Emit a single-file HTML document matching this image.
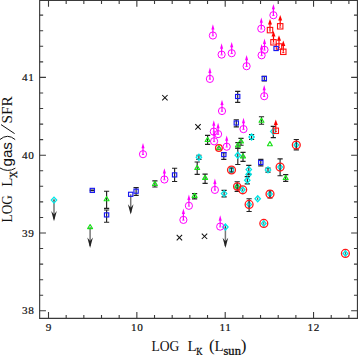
<!DOCTYPE html>
<html><head><meta charset="utf-8"><style>
html,body{margin:0;padding:0;background:#fff;}
svg{display:block;}
.tl{font-family:"Liberation Serif",serif;font-size:11.2px;fill:#111;stroke:#111;stroke-width:0.2px;}
.lb{font-family:"Liberation Serif",serif;fill:#111;}
.sb{stroke:#111;stroke-width:0.3px;}
.ls{font-family:"Liberation Sans",sans-serif;fill:#111;}
</style></head><body>
<svg width="358" height="355" viewBox="0 0 358 355">
<rect width="358" height="355" fill="#fff"/>
<path d="M39.65 0.5H357.45V318.4H39.65Z" fill="none" stroke="#3a3a3a" stroke-width="1.15"/>
<path d="M48.50 318.4v-6.3M48.50 0.5v6.3M66.17 318.4v-3.5M66.17 0.5v3.5M83.84 318.4v-3.5M83.84 0.5v3.5M101.51 318.4v-3.5M101.51 0.5v3.5M119.18 318.4v-3.5M119.18 0.5v3.5M136.85 318.4v-6.3M136.85 0.5v6.3M154.52 318.4v-3.5M154.52 0.5v3.5M172.19 318.4v-3.5M172.19 0.5v3.5M189.86 318.4v-3.5M189.86 0.5v3.5M207.53 318.4v-3.5M207.53 0.5v3.5M225.20 318.4v-6.3M225.20 0.5v6.3M242.87 318.4v-3.5M242.87 0.5v3.5M260.54 318.4v-3.5M260.54 0.5v3.5M278.21 318.4v-3.5M278.21 0.5v3.5M295.88 318.4v-3.5M295.88 0.5v3.5M313.55 318.4v-6.3M313.55 0.5v6.3M331.22 318.4v-3.5M331.22 0.5v3.5M348.89 318.4v-3.5M348.89 0.5v3.5M39.65 310.80h6.3M357.45 310.80h-6.3M39.65 295.24h3.5M357.45 295.24h-3.5M39.65 279.68h3.5M357.45 279.68h-3.5M39.65 264.12h3.5M357.45 264.12h-3.5M39.65 248.56h3.5M357.45 248.56h-3.5M39.65 233.00h6.3M357.45 233.00h-6.3M39.65 217.44h3.5M357.45 217.44h-3.5M39.65 201.88h3.5M357.45 201.88h-3.5M39.65 186.32h3.5M357.45 186.32h-3.5M39.65 170.76h3.5M357.45 170.76h-3.5M39.65 155.20h6.3M357.45 155.20h-6.3M39.65 139.64h3.5M357.45 139.64h-3.5M39.65 124.08h3.5M357.45 124.08h-3.5M39.65 108.52h3.5M357.45 108.52h-3.5M39.65 92.96h3.5M357.45 92.96h-3.5M39.65 77.40h6.3M357.45 77.40h-6.3M39.65 61.84h3.5M357.45 61.84h-3.5M39.65 46.28h3.5M357.45 46.28h-3.5M39.65 30.72h3.5M357.45 30.72h-3.5M39.65 15.16h3.5M357.45 15.16h-3.5" fill="none" stroke="#3a3a3a" stroke-width="1.1"/>
<path d="M162.20000000000002 95.0L167.6 100.4M162.20000000000002 100.4L167.6 95.0" stroke="#111" stroke-width="1.05"/>
<path d="M195.3 124.2L200.7 129.6M195.3 129.6L200.7 124.2" stroke="#111" stroke-width="1.05"/>
<path d="M176.70000000000002 234.9L182.1 240.29999999999998M176.70000000000002 240.29999999999998L182.1 234.9" stroke="#111" stroke-width="1.05"/>
<path d="M201.8 233.60000000000002L207.2 239.0M201.8 239.0L207.2 233.60000000000002" stroke="#111" stroke-width="1.05"/>
<path d="M54.0 200.1V219.2" stroke="#777" stroke-width="1.5"/><path d="M54.0 221.2L56.8 210.89999999999998L54.0 214.39999999999998L51.2 210.89999999999998Z" fill="#222"/>
<path d="M90.1 227.0V245.9" stroke="#777" stroke-width="1.5"/><path d="M90.1 247.9L92.89999999999999 237.6L90.1 241.1L87.3 237.6Z" fill="#222"/>
<path d="M130.7 194.3V212.6" stroke="#777" stroke-width="1.5"/><path d="M130.7 214.6L133.5 204.29999999999998L130.7 207.79999999999998L127.89999999999999 204.29999999999998Z" fill="#222"/>
<path d="M225.4 227.0V246.1" stroke="#777" stroke-width="1.5"/><path d="M225.4 248.1L228.20000000000002 237.79999999999998L225.4 241.29999999999998L222.6 237.79999999999998Z" fill="#222"/>
<path d="M264.3 76.3V80.8M261.7 76.3h5.2M261.7 80.8h5.2" fill="none" stroke="#222" stroke-width="1.15"/>
<rect x="262.15" y="76.45" width="4.3" height="4.1" fill="none" stroke="#1818f0" stroke-width="1.15"/>
<path d="M237.7 91.4V102.4M235.1 91.4h5.2M235.1 102.4h5.2" fill="none" stroke="#222" stroke-width="1.15"/>
<rect x="235.55" y="94.45" width="4.3" height="4.1" fill="none" stroke="#1818f0" stroke-width="1.15"/>
<path d="M236.3 119.7V126.8M233.70000000000002 119.7h5.2M233.70000000000002 126.8h5.2" fill="none" stroke="#222" stroke-width="1.15"/>
<rect x="234.15" y="120.95" width="4.3" height="4.1" fill="none" stroke="#1818f0" stroke-width="1.15"/>
<path d="M174.6 168.2V181.5M172.0 168.2h5.2M172.0 181.5h5.2" fill="none" stroke="#222" stroke-width="1.15"/>
<rect x="172.45" y="172.85" width="4.3" height="4.1" fill="none" stroke="#1818f0" stroke-width="1.15"/>
<path d="M136.1 187.6V195.4M133.5 187.6h5.2M133.5 195.4h5.2" fill="none" stroke="#222" stroke-width="1.15"/>
<rect x="133.95" y="189.15" width="4.3" height="4.1" fill="none" stroke="#1818f0" stroke-width="1.15"/>
<rect x="128.55" y="192.25" width="4.3" height="4.1" fill="none" stroke="#1818f0" stroke-width="1.15"/>
<path d="M92.3 190.0V190.6M89.7 190.0h5.2M89.7 190.6h5.2" fill="none" stroke="#222" stroke-width="1.15"/>
<rect x="90.15" y="188.35" width="4.3" height="4.1" fill="none" stroke="#1818f0" stroke-width="1.15"/>
<path d="M106.6 210.0V222.2M104.0 210.0h5.2M104.0 222.2h5.2" fill="none" stroke="#222" stroke-width="1.15"/>
<rect x="104.45" y="212.85" width="4.3" height="4.1" fill="none" stroke="#1818f0" stroke-width="1.15"/>
<path d="M223.8 152.6V159.4M221.20000000000002 152.6h5.2M221.20000000000002 159.4h5.2" fill="none" stroke="#222" stroke-width="1.15"/>
<rect x="221.65" y="152.55" width="4.3" height="4.1" fill="none" stroke="#1818f0" stroke-width="1.15"/>
<path d="M260.8 159.4V165.9M258.2 159.4h5.2M258.2 165.9h5.2" fill="none" stroke="#222" stroke-width="1.15"/>
<rect x="258.65" y="160.45" width="4.3" height="4.1" fill="none" stroke="#1818f0" stroke-width="1.15"/>
<path d="M106.6 191.2V208.4M104.0 191.2h5.2M104.0 208.4h5.2" fill="none" stroke="#222" stroke-width="1.15"/>
<path d="M106.6 196.60L109.05 200.70H104.15Z" fill="none" stroke="#18e018" stroke-width="1.15" stroke-linejoin="round"/>
<path d="M90.1 224.50L92.55 228.60H87.65Z" fill="none" stroke="#18e018" stroke-width="1.15" stroke-linejoin="round"/>
<path d="M154.9 180.8V187.0M152.3 180.8h5.2M152.3 187.0h5.2" fill="none" stroke="#222" stroke-width="1.15"/>
<path d="M154.9 181.40L157.35 185.50H152.45Z" fill="none" stroke="#18e018" stroke-width="1.15" stroke-linejoin="round"/>
<path d="M207.6 135.3V144.3M205.0 135.3h5.2M205.0 144.3h5.2" fill="none" stroke="#222" stroke-width="1.15"/>
<path d="M207.6 137.40L210.05 141.50H205.15Z" fill="none" stroke="#18e018" stroke-width="1.15" stroke-linejoin="round"/>
<path d="M197.2 162.0V174.4M194.6 162.0h5.2M194.6 174.4h5.2" fill="none" stroke="#222" stroke-width="1.15"/>
<path d="M197.2 165.40L199.65 169.50H194.75Z" fill="none" stroke="#18e018" stroke-width="1.15" stroke-linejoin="round"/>
<path d="M205.1 174.1V183.4M202.5 174.1h5.2M202.5 183.4h5.2" fill="none" stroke="#222" stroke-width="1.15"/>
<path d="M205.1 175.30L207.55 179.40H202.65Z" fill="none" stroke="#18e018" stroke-width="1.15" stroke-linejoin="round"/>
<path d="M194.6 193.6V198.9M192.0 193.6h5.2M192.0 198.9h5.2" fill="none" stroke="#222" stroke-width="1.15"/>
<path d="M194.6 193.30L197.05 197.40H192.15Z" fill="none" stroke="#18e018" stroke-width="1.15" stroke-linejoin="round"/>
<path d="M241.0 138.3V145.2M238.4 138.3h5.2M238.4 145.2h5.2" fill="none" stroke="#222" stroke-width="1.15"/>
<path d="M241.0 138.80L243.45 142.90H238.55Z" fill="none" stroke="#18e018" stroke-width="1.15" stroke-linejoin="round"/>
<path d="M237.9 142.6V148.2M235.3 142.6h5.2M235.3 148.2h5.2" fill="none" stroke="#222" stroke-width="1.15"/>
<path d="M237.9 142.70L240.35 146.80H235.45Z" fill="none" stroke="#18e018" stroke-width="1.15" stroke-linejoin="round"/>
<path d="M243.0 152.3V161.4M240.4 152.3h5.2M240.4 161.4h5.2" fill="none" stroke="#222" stroke-width="1.15"/>
<path d="M243.0 153.80L245.45 157.90H240.55Z" fill="none" stroke="#18e018" stroke-width="1.15" stroke-linejoin="round"/>
<path d="M261.5 116.7V124.2M258.9 116.7h5.2M258.9 124.2h5.2" fill="none" stroke="#222" stroke-width="1.15"/>
<path d="M261.5 118.10L263.95 122.20H259.05Z" fill="none" stroke="#18e018" stroke-width="1.15" stroke-linejoin="round"/>
<path d="M269.9 141.60L272.35 145.70H267.45Z" fill="none" stroke="#18e018" stroke-width="1.15" stroke-linejoin="round"/>
<path d="M285.7 174.6V181.3M283.09999999999997 174.6h5.2M283.09999999999997 181.3h5.2" fill="none" stroke="#222" stroke-width="1.15"/>
<path d="M285.7 175.40L288.15 179.50H283.25Z" fill="none" stroke="#18e018" stroke-width="1.15" stroke-linejoin="round"/>
<path d="M54.0 198.9V201.29999999999998" stroke="#333" stroke-width="0.9"/>
<path d="M54.0 197.1L56.7 200.1L54.0 203.1L51.3 200.1Z" fill="none" stroke="#00e8e8" stroke-width="1.3"/>
<path d="M198.9 155.2V159.4M196.3 155.2h5.2M196.3 159.4h5.2" fill="none" stroke="#222" stroke-width="1.15"/>
<path d="M198.9 154.3L201.6 157.3L198.9 160.3L196.20000000000002 157.3Z" fill="none" stroke="#00e8e8" stroke-width="1.3"/>
<path d="M251.6 134.5V139.5M249.0 134.5h5.2M249.0 139.5h5.2" fill="none" stroke="#222" stroke-width="1.15"/>
<path d="M251.6 134.0L254.29999999999998 137.0L251.6 140.0L248.9 137.0Z" fill="none" stroke="#00e8e8" stroke-width="1.3"/>
<path d="M237.8 148.2V164.5M235.20000000000002 148.2h5.2M235.20000000000002 164.5h5.2" fill="none" stroke="#222" stroke-width="1.15"/>
<path d="M237.8 152.3L240.5 155.3L237.8 158.3L235.10000000000002 155.3Z" fill="none" stroke="#00e8e8" stroke-width="1.3"/>
<path d="M248.8 165.3V174.1M246.20000000000002 165.3h5.2M246.20000000000002 174.1h5.2" fill="none" stroke="#222" stroke-width="1.15"/>
<path d="M248.8 166.6L251.5 169.6L248.8 172.6L246.10000000000002 169.6Z" fill="none" stroke="#00e8e8" stroke-width="1.3"/>
<path d="M248.6 173.20000000000002V175.6" stroke="#333" stroke-width="0.9"/>
<path d="M248.6 171.4L251.29999999999998 174.4L248.6 177.4L245.9 174.4Z" fill="none" stroke="#00e8e8" stroke-width="1.3"/>
<path d="M247.3 176.6V183.8M244.70000000000002 176.6h5.2M244.70000000000002 183.8h5.2" fill="none" stroke="#222" stroke-width="1.15"/>
<path d="M247.3 177.2L250.0 180.2L247.3 183.2L244.60000000000002 180.2Z" fill="none" stroke="#00e8e8" stroke-width="1.3"/>
<path d="M224.1 190.4V196.9M221.5 190.4h5.2M221.5 196.9h5.2" fill="none" stroke="#222" stroke-width="1.15"/>
<path d="M224.1 190.6L226.79999999999998 193.6L224.1 196.6L221.4 193.6Z" fill="none" stroke="#00e8e8" stroke-width="1.3"/>
<path d="M257.7 197.5V199.89999999999998" stroke="#333" stroke-width="0.9"/>
<path d="M257.7 195.7L260.4 198.7L257.7 201.7L255.0 198.7Z" fill="none" stroke="#00e8e8" stroke-width="1.3"/>
<path d="M268.0 168.1V172.1M265.4 168.1h5.2M265.4 172.1h5.2" fill="none" stroke="#222" stroke-width="1.15"/>
<path d="M268.0 166.9L270.7 169.9L268.0 172.9L265.3 169.9Z" fill="none" stroke="#00e8e8" stroke-width="1.3"/>
<path d="M225.4 225.8V228.2" stroke="#333" stroke-width="0.9"/>
<path d="M225.4 224.0L228.1 227.0L225.4 230.0L222.70000000000002 227.0Z" fill="none" stroke="#00e8e8" stroke-width="1.3"/>
<path d="M273.3 126.3V137.6M270.7 126.3h5.2M270.7 137.6h5.2" fill="none" stroke="#222" stroke-width="1.15"/>
<path d="M273.3 128.4L276.0 131.4L273.3 134.4L270.6 131.4Z" fill="none" stroke="#00e8e8" stroke-width="1.3"/>
<path d="M218.9 145.50L221.35 149.60H216.45Z" fill="none" stroke="#18e018" stroke-width="1.15" stroke-linejoin="round"/>
<path d="M218.9 146.8V149.2" stroke="#333" stroke-width="0.9"/>
<circle cx="218.9" cy="148.0" r="3.35" fill="none" stroke="#ff1a1a" stroke-width="1.3"/>
<path d="M296.3 142.2L298.6 145.0L296.3 147.8L294.0 145.0Z" fill="none" stroke="#00e8e8" stroke-width="1.3"/>
<path d="M296.3 139.5V149.8M293.7 139.5h5.2M293.7 149.8h5.2" fill="none" stroke="#222" stroke-width="1.15"/>
<circle cx="296.3" cy="145.0" r="3.95" fill="none" stroke="#ff1a1a" stroke-width="1.3"/>
<path d="M345.4 250.6L347.7 253.4L345.4 256.2L343.09999999999997 253.4Z" fill="none" stroke="#00e8e8" stroke-width="1.3"/>
<path d="M345.4 252.20000000000002V254.6" stroke="#333" stroke-width="0.9"/>
<circle cx="345.4" cy="253.4" r="3.95" fill="none" stroke="#ff1a1a" stroke-width="1.3"/>
<path d="M231.5 167.2L233.8 170.0L231.5 172.8L229.2 170.0Z" fill="none" stroke="#00e8e8" stroke-width="1.3"/>
<path d="M231.5 168V172M228.9 168h5.2M228.9 172h5.2" fill="none" stroke="#222" stroke-width="1.15"/>
<circle cx="231.5" cy="170.0" r="3.95" fill="none" stroke="#ff1a1a" stroke-width="1.3"/>
<path d="M237.2 183.6L239.5 186.4L237.2 189.20000000000002L234.89999999999998 186.4Z" fill="none" stroke="#00e8e8" stroke-width="1.3"/>
<path d="M237.2 183.90L239.65 188.00H234.75Z" fill="none" stroke="#18e018" stroke-width="1.15" stroke-linejoin="round"/>
<path d="M237.2 181.7V191.3M234.6 181.7h5.2M234.6 191.3h5.2" fill="none" stroke="#222" stroke-width="1.15"/>
<circle cx="237.2" cy="186.4" r="3.6" fill="none" stroke="#ff1a1a" stroke-width="1.3"/>
<path d="M242.7 187.0L245.0 189.8L242.7 192.60000000000002L240.39999999999998 189.8Z" fill="none" stroke="#00e8e8" stroke-width="1.3"/>
<path d="M242.7 188.60000000000002V191.0" stroke="#333" stroke-width="0.9"/>
<circle cx="242.7" cy="189.8" r="3.95" fill="none" stroke="#ff1a1a" stroke-width="1.3"/>
<path d="M249.1 201.6L251.4 204.4L249.1 207.20000000000002L246.79999999999998 204.4Z" fill="none" stroke="#00e8e8" stroke-width="1.3"/>
<path d="M249.1 198.7V211.5M246.5 198.7h5.2M246.5 211.5h5.2" fill="none" stroke="#222" stroke-width="1.15"/>
<circle cx="249.1" cy="204.4" r="3.95" fill="none" stroke="#ff1a1a" stroke-width="1.3"/>
<path d="M270.0 191.29999999999998L272.3 194.1L270.0 196.9L267.7 194.1Z" fill="none" stroke="#00e8e8" stroke-width="1.3"/>
<path d="M270.0 190.7V198.0M267.4 190.7h5.2M267.4 198.0h5.2" fill="none" stroke="#222" stroke-width="1.15"/>
<circle cx="270.0" cy="194.1" r="3.95" fill="none" stroke="#ff1a1a" stroke-width="1.3"/>
<path d="M263.8 220.6L266.1 223.4L263.8 226.20000000000002L261.5 223.4Z" fill="none" stroke="#00e8e8" stroke-width="1.3"/>
<path d="M263.8 222.20000000000002V224.6" stroke="#333" stroke-width="0.9"/>
<circle cx="263.8" cy="223.4" r="3.95" fill="none" stroke="#ff1a1a" stroke-width="1.3"/>
<path d="M280.1 164.29999999999998L282.40000000000003 167.1L280.1 169.9L277.8 167.1Z" fill="none" stroke="#00e8e8" stroke-width="1.3"/>
<path d="M280.1 158.8V175.7M277.5 158.8h5.2M277.5 175.7h5.2" fill="none" stroke="#222" stroke-width="1.15"/>
<circle cx="280.1" cy="167.1" r="3.95" fill="none" stroke="#ff1a1a" stroke-width="1.3"/>
<path d="M273.4 15.2V8.799999999999999" stroke="#ff00ff" stroke-width="1.2"/><path d="M273.4 3.8999999999999986L274.95 9.299999999999999H271.84999999999997Z" fill="#ff00ff"/><circle cx="273.4" cy="15.2" r="3.6" fill="none" stroke="#ff00ff" stroke-width="1.0"/><path d="M272.30 15.50h2.2" stroke="#ff00ff" stroke-width="0.9"/>
<path d="M261.3 28.7V22.299999999999997" stroke="#ff00ff" stroke-width="1.2"/><path d="M261.3 17.4L262.85 22.799999999999997H259.75Z" fill="#ff00ff"/><circle cx="261.3" cy="28.7" r="3.6" fill="none" stroke="#ff00ff" stroke-width="1.0"/><path d="M260.20 29.00h2.2" stroke="#ff00ff" stroke-width="0.9"/>
<path d="M212.9 35.5V29.1" stroke="#ff00ff" stroke-width="1.2"/><path d="M212.9 24.2L214.45000000000002 29.6H211.35Z" fill="#ff00ff"/><circle cx="212.9" cy="35.5" r="3.6" fill="none" stroke="#ff00ff" stroke-width="1.0"/><path d="M211.80 35.80h2.2" stroke="#ff00ff" stroke-width="0.9"/>
<path d="M221.6 54.6V48.199999999999996" stroke="#ff00ff" stroke-width="1.2"/><path d="M221.6 43.3L223.15 48.699999999999996H220.04999999999998Z" fill="#ff00ff"/><circle cx="221.6" cy="54.6" r="3.6" fill="none" stroke="#ff00ff" stroke-width="1.0"/><path d="M220.50 54.90h2.2" stroke="#ff00ff" stroke-width="0.9"/>
<path d="M231.7 53.2V46.800000000000004" stroke="#ff00ff" stroke-width="1.2"/><path d="M231.7 41.900000000000006L233.25 47.300000000000004H230.14999999999998Z" fill="#ff00ff"/><circle cx="231.7" cy="53.2" r="3.6" fill="none" stroke="#ff00ff" stroke-width="1.0"/><path d="M230.60 53.50h2.2" stroke="#ff00ff" stroke-width="0.9"/>
<path d="M264.5 49.8V43.4" stroke="#ff00ff" stroke-width="1.2"/><path d="M264.5 38.5L266.05 43.9H262.95Z" fill="#ff00ff"/><circle cx="264.5" cy="49.8" r="3.6" fill="none" stroke="#ff00ff" stroke-width="1.0"/><path d="M263.40 50.10h2.2" stroke="#ff00ff" stroke-width="0.9"/>
<path d="M261.6 55.3V48.9" stroke="#ff00ff" stroke-width="1.2"/><path d="M261.6 44.0L263.15000000000003 49.4H260.05Z" fill="#ff00ff"/><circle cx="261.6" cy="55.3" r="3.6" fill="none" stroke="#ff00ff" stroke-width="1.0"/><path d="M260.50 55.60h2.2" stroke="#ff00ff" stroke-width="0.9"/>
<path d="M246.6 66.2V59.800000000000004" stroke="#ff00ff" stroke-width="1.2"/><path d="M246.6 54.900000000000006L248.15 60.300000000000004H245.04999999999998Z" fill="#ff00ff"/><circle cx="246.6" cy="66.2" r="3.6" fill="none" stroke="#ff00ff" stroke-width="1.0"/><path d="M245.50 66.50h2.2" stroke="#ff00ff" stroke-width="0.9"/>
<path d="M209.9 78.9V72.50000000000001" stroke="#ff00ff" stroke-width="1.2"/><path d="M209.9 67.60000000000001L211.45000000000002 73.00000000000001H208.35Z" fill="#ff00ff"/><circle cx="209.9" cy="78.9" r="3.6" fill="none" stroke="#ff00ff" stroke-width="1.0"/><path d="M208.80 79.20h2.2" stroke="#ff00ff" stroke-width="0.9"/>
<path d="M264.2 96.2V89.80000000000001" stroke="#ff00ff" stroke-width="1.2"/><path d="M264.2 84.9L265.75 90.30000000000001H262.65Z" fill="#ff00ff"/><circle cx="264.2" cy="96.2" r="3.6" fill="none" stroke="#ff00ff" stroke-width="1.0"/><path d="M263.10 96.50h2.2" stroke="#ff00ff" stroke-width="0.9"/>
<path d="M222.0 111.0V104.60000000000001" stroke="#ff00ff" stroke-width="1.2"/><path d="M222.0 99.7L223.55 105.10000000000001H220.45Z" fill="#ff00ff"/><circle cx="222.0" cy="111.0" r="3.6" fill="none" stroke="#ff00ff" stroke-width="1.0"/><path d="M220.90 111.30h2.2" stroke="#ff00ff" stroke-width="0.9"/>
<path d="M243.5 129.1V122.7" stroke="#ff00ff" stroke-width="1.2"/><path d="M243.5 117.8L245.05 123.2H241.95Z" fill="#ff00ff"/><circle cx="243.5" cy="129.1" r="3.6" fill="none" stroke="#ff00ff" stroke-width="1.0"/><path d="M242.40 129.40h2.2" stroke="#ff00ff" stroke-width="0.9"/>
<path d="M213.8 131.6V125.2" stroke="#ff00ff" stroke-width="1.2"/><path d="M213.8 120.3L215.35000000000002 125.7H212.25Z" fill="#ff00ff"/><circle cx="213.8" cy="131.6" r="3.6" fill="none" stroke="#ff00ff" stroke-width="1.0"/><path d="M212.70 131.90h2.2" stroke="#ff00ff" stroke-width="0.9"/>
<path d="M218.1 134.1V127.69999999999999" stroke="#ff00ff" stroke-width="1.2"/><path d="M218.1 122.8L219.65 128.2H216.54999999999998Z" fill="#ff00ff"/><circle cx="218.1" cy="134.1" r="3.6" fill="none" stroke="#ff00ff" stroke-width="1.0"/><path d="M217.00 134.40h2.2" stroke="#ff00ff" stroke-width="0.9"/>
<path d="M214.1 141.3V134.9" stroke="#ff00ff" stroke-width="1.2"/><path d="M214.1 130.0L215.65 135.4H212.54999999999998Z" fill="#ff00ff"/><circle cx="214.1" cy="141.3" r="3.6" fill="none" stroke="#ff00ff" stroke-width="1.0"/><path d="M213.00 141.60h2.2" stroke="#ff00ff" stroke-width="0.9"/>
<path d="M226.7 146.7V140.29999999999998" stroke="#ff00ff" stroke-width="1.2"/><path d="M226.7 135.39999999999998L228.25 140.79999999999998H225.14999999999998Z" fill="#ff00ff"/><circle cx="226.7" cy="146.7" r="3.6" fill="none" stroke="#ff00ff" stroke-width="1.0"/><path d="M225.60 147.00h2.2" stroke="#ff00ff" stroke-width="0.9"/>
<path d="M143.0 154.2V147.79999999999998" stroke="#ff00ff" stroke-width="1.2"/><path d="M143.0 142.89999999999998L144.55 148.29999999999998H141.45Z" fill="#ff00ff"/><circle cx="143.0" cy="154.2" r="3.6" fill="none" stroke="#ff00ff" stroke-width="1.0"/><path d="M141.90 154.50h2.2" stroke="#ff00ff" stroke-width="0.9"/>
<path d="M164.4 179.5V173.1" stroke="#ff00ff" stroke-width="1.2"/><path d="M164.4 168.2L165.95000000000002 173.6H162.85Z" fill="#ff00ff"/><circle cx="164.4" cy="179.5" r="3.6" fill="none" stroke="#ff00ff" stroke-width="1.0"/><path d="M163.30 179.80h2.2" stroke="#ff00ff" stroke-width="0.9"/>
<path d="M214.9 189.9V183.5" stroke="#ff00ff" stroke-width="1.2"/><path d="M214.9 178.6L216.45000000000002 184.0H213.35Z" fill="#ff00ff"/><circle cx="214.9" cy="189.9" r="3.6" fill="none" stroke="#ff00ff" stroke-width="1.0"/><path d="M213.80 190.20h2.2" stroke="#ff00ff" stroke-width="0.9"/>
<path d="M188.9 205.8V199.4" stroke="#ff00ff" stroke-width="1.2"/><path d="M188.9 194.5L190.45000000000002 199.9H187.35Z" fill="#ff00ff"/><circle cx="188.9" cy="205.8" r="3.6" fill="none" stroke="#ff00ff" stroke-width="1.0"/><path d="M187.80 206.10h2.2" stroke="#ff00ff" stroke-width="0.9"/>
<path d="M183.4 219.9V213.5" stroke="#ff00ff" stroke-width="1.2"/><path d="M183.4 208.6L184.95000000000002 214.0H181.85Z" fill="#ff00ff"/><circle cx="183.4" cy="219.9" r="3.6" fill="none" stroke="#ff00ff" stroke-width="1.0"/><path d="M182.30 220.20h2.2" stroke="#ff00ff" stroke-width="0.9"/>
<path d="M220.2 226.6V220.2" stroke="#ff00ff" stroke-width="1.2"/><path d="M220.2 215.29999999999998L221.75 220.7H218.64999999999998Z" fill="#ff00ff"/><circle cx="220.2" cy="226.6" r="3.6" fill="none" stroke="#ff00ff" stroke-width="1.0"/><path d="M219.10 226.90h2.2" stroke="#ff00ff" stroke-width="0.9"/>
<path d="M270.0 30.1V23.900000000000002" stroke="#ff0000" stroke-width="1.2"/><path d="M270.0 18.900000000000002L272.0 24.400000000000002H268.0Z" fill="#ff0000"/><rect x="267.3" y="27.400000000000002" width="5.4" height="5.4" fill="none" stroke="#ff1010" stroke-width="1.1"/><path d="M269.0 30.900000000000002h2" stroke="#ff0000" stroke-width="1"/>
<path d="M280.2 26.3V20.1" stroke="#ff0000" stroke-width="1.2"/><path d="M280.2 15.100000000000001L282.2 20.6H278.2Z" fill="#ff0000"/><rect x="277.5" y="23.6" width="5.4" height="5.4" fill="none" stroke="#ff1010" stroke-width="1.1"/><path d="M279.2 27.1h2" stroke="#ff0000" stroke-width="1"/>
<path d="M273.5 42.3V36.099999999999994" stroke="#ff0000" stroke-width="1.2"/><path d="M273.5 31.099999999999998L275.5 36.599999999999994H271.5Z" fill="#ff0000"/><rect x="270.8" y="39.599999999999994" width="5.4" height="5.4" fill="none" stroke="#ff1010" stroke-width="1.1"/><path d="M272.5 43.099999999999994h2" stroke="#ff0000" stroke-width="1"/>
<path d="M279.0 46.5V40.3" stroke="#ff0000" stroke-width="1.2"/><path d="M279.0 35.3L281.0 40.8H277.0Z" fill="#ff0000"/><rect x="276.3" y="43.8" width="5.4" height="5.4" fill="none" stroke="#ff1010" stroke-width="1.1"/><path d="M278.0 47.3h2" stroke="#ff0000" stroke-width="1"/>
<path d="M283.3 51.8V45.599999999999994" stroke="#ff0000" stroke-width="1.2"/><path d="M283.3 40.599999999999994L285.3 46.099999999999994H281.3Z" fill="#ff0000"/><rect x="280.6" y="49.099999999999994" width="5.4" height="5.4" fill="none" stroke="#ff1010" stroke-width="1.1"/><path d="M282.3 52.599999999999994h2" stroke="#ff0000" stroke-width="1"/>
<path d="M275.8 130.8V124.60000000000001" stroke="#ff0000" stroke-width="1.2"/><path d="M275.8 119.60000000000001L277.8 125.10000000000001H273.8Z" fill="#ff0000"/><rect x="273.1" y="128.10000000000002" width="5.4" height="5.4" fill="none" stroke="#ff1010" stroke-width="1.1"/><path d="M274.8 131.60000000000002h2" stroke="#ff0000" stroke-width="1"/>
<rect x="273.95" y="46.45" width="4.3" height="4.1" fill="none" stroke="#1818f0" stroke-width="1.15"/>
<text x="48.8" y="331" text-anchor="middle" class="tl" letter-spacing="0.6">9</text>
<text x="137.2" y="331" text-anchor="middle" class="tl" letter-spacing="0.6">10</text>
<text x="225.5" y="331" text-anchor="middle" class="tl" letter-spacing="0.6">11</text>
<text x="313.8" y="331" text-anchor="middle" class="tl" letter-spacing="0.6">12</text>
<text x="34.4" y="314.4" text-anchor="end" class="tl" letter-spacing="0.6">38</text>
<text x="34.4" y="236.6" text-anchor="end" class="tl" letter-spacing="0.6">39</text>
<text x="34.4" y="158.8" text-anchor="end" class="tl" letter-spacing="0.6">40</text>
<text x="34.4" y="81.0" text-anchor="end" class="tl" letter-spacing="0.6">41</text>
<text x="151.5" y="350.5" font-size="15" class="lb" textLength="27.9" lengthAdjust="spacingAndGlyphs">LOG</text>
<text x="187.6" y="350.5" font-size="15" class="lb">L</text>
<text x="196.2" y="355.0" font-size="10.5" class="lb sb" textLength="6.2" lengthAdjust="spacingAndGlyphs">K</text>
<text x="209.0" y="350.5" font-size="17" class="lb">(</text>
<text x="214.5" y="350.5" font-size="15" class="lb">L</text>
<text x="223.5" y="354.8" font-size="11.6" class="lb sb" textLength="17.4" lengthAdjust="spacingAndGlyphs">sun</text>
<text x="240.7" y="350.5" font-size="17" class="lb">)</text>
<g transform="translate(12.2,221.2) rotate(-90)"><text x="-1.3" y="0" font-size="15" class="lb" textLength="27.4" lengthAdjust="spacingAndGlyphs">LOG</text><text x="34.4" y="0" font-size="15" class="lb">L</text><text x="43.2" y="4.6" font-size="10.5" class="lb sb" textLength="6.9" lengthAdjust="spacingAndGlyphs">X</text><text x="54.7" y="0" font-size="14.2" class="ls" textLength="24.4" lengthAdjust="spacingAndGlyphs">gas</text><text x="97.6" y="0" font-size="15" class="lb" textLength="27.4" lengthAdjust="spacingAndGlyphs">SFR</text></g>
<path d="M1.0 124.6L14.6 133.6M-0.2 139.6Q7.5 133.0 15.2 139.6M-0.2 167.9Q7.6 172.8 15.4 168.2" fill="none" stroke="#111" stroke-width="1.0"/>
</svg>
</body></html>
